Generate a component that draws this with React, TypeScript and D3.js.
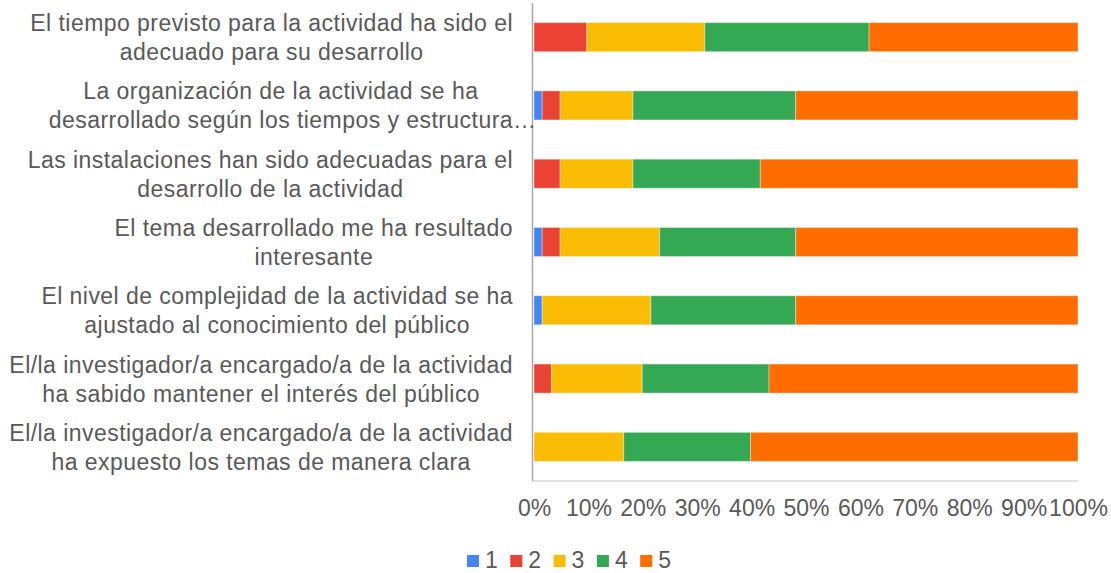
import React, { useEffect, useRef } from 'react'
import * as d3 from 'd3'

const categories = [
  ['El tiempo previsto para la actividad ha sido el', 'adecuado para su desarrollo'],
  ['La organización de la actividad se ha', 'desarrollado según los tiempos y estructura…'],
  ['Las instalaciones han sido adecuadas para el', 'desarrollo de la actividad'],
  ['El tema desarrollado me ha resultado', 'interesante'],
  ['El nivel de complejidad de la actividad se ha', 'ajustado al conocimiento del público'],
  ['El/la investigador/a encargado/a de la actividad', 'ha sabido mantener el interés del público'],
  ['El/la investigador/a encargado/a de la actividad', 'ha expuesto los temas de manera clara']
]

const seriesKeys = ['1', '2', '3', '4', '5']
const seriesColors = ['#4285F4', '#EA4335', '#FBBC04', '#34A853', '#FF6D01']

// percentages per category, one array per rating
const s1 = [0, 1.5, 0, 1.5, 1.5, 0, 0]
const s2 = [9.7, 3.3, 4.8, 3.3, 0, 3.2, 0]
const s3 = [21.7, 13.4, 13.4, 18.3, 20.0, 16.7, 16.5]
const s4 = [30.2, 29.9, 23.4, 25.0, 26.6, 23.3, 23.3]
const s5 = [38.4, 51.9, 58.4, 51.9, 51.9, 56.8, 60.2]

const xTicks = [0, 10, 20, 30, 40, 50, 60, 70, 80, 90, 100]

const W = 1111
const H = 573
const FONT = 'Liberation Sans, Arial, sans-serif'
const TEXT = '#595959'

export default function App() {
  const ref = useRef<SVGSVGElement>(null)

  useEffect(() => {
    const svg = d3.select(ref.current)
    svg.selectAll('*').remove()

    const rows = categories.map((c, i) => ({
      idx: i,
      '1': s1[i],
      '2': s2[i],
      '3': s3[i],
      '4': s4[i],
      '5': s5[i]
    }))
    const stacked = d3.stack<any>().keys(seriesKeys)(rows)

    const x = d3.scaleLinear().domain([0, 100]).range([534, 1078])
    const y = d3
      .scaleBand<number>()
      .domain(categories.map((c, i) => i))
      .range([3, 481])
      .paddingInner(0.575)
      .paddingOuter(0.2875)

    // bars
    svg
      .append('g')
      .selectAll('g')
      .data(stacked)
      .join('g')
      .attr('fill', (d, i) => seriesColors[i])
      .selectAll('rect')
      .data(d => d.filter(v => v[1] - v[0] > 0))
      .join('rect')
      .attr('x', d => x(d[0]))
      .attr('y', d => y(d.data.idx)!)
      .attr('width', d => x(d[1]) - x(d[0]))
      .attr('height', y.bandwidth())
      .attr('stroke', '#ffffff')
      .attr('stroke-opacity', 0.35)
      .attr('stroke-width', 1)

    // frame lines: left baseline and faint bottom line
    svg
      .append('line')
      .attr('x1', 532.5)
      .attr('x2', 532.5)
      .attr('y1', 3)
      .attr('y2', 481)
      .attr('stroke', '#a6a6a6')
      .attr('stroke-width', 1.5)
    svg
      .append('line')
      .attr('x1', 532)
      .attr('x2', 1078)
      .attr('y1', 481)
      .attr('y2', 481)
      .attr('stroke', '#c8c8c8')
      .attr('stroke-width', 1)

    // x axis labels
    const xa = svg
      .append('g')
      .attr('transform', 'translate(0,500)')
      .call(
        d3
          .axisBottom(x)
          .tickValues(xTicks)
          .tickSize(0)
          .tickPadding(0)
          .tickFormat(d => d + '%')
      )
    xa.select('.domain').remove()
    xa.selectAll('text')
      .attr('font-family', FONT)
      .attr('font-size', 23)
      .attr('fill', TEXT)

    // category labels: lines centred in a block that is right aligned
    const right = 513
    const lineGap = 29
    categories.forEach((lines, i) => {
      const cy = y(i)! + y.bandwidth() / 2
      const g = svg.append('g')
      const texts = lines.map((ln, j) => {
        const truncated = ln.endsWith('…')
        const body = truncated ? ln.slice(0, -1) : ln
        const t = g
          .append('text')
          .attr('font-family', FONT)
          .attr('font-size', 23)
          .attr('letter-spacing', 0.45)
          .attr('fill', TEXT)
          .attr('y', cy - 6 + j * lineGap)
          .text(body)
        const w = (t.node() as SVGTextElement).getComputedTextLength()
        return { t, w, truncated }
      })
      const maxW = d3.max(texts, d => d.w) || 0
      texts.forEach(({ t, w, truncated }) => {
        t.attr('x', right - maxW / 2 - w / 2)
        if (truncated) t.append('tspan').text('…')
      })
    })

    // legend
    const lg = svg.append('g').attr('transform', 'translate(467,568)')
    seriesKeys.forEach((k, i) => {
      const it = lg.append('g').attr('transform', `translate(${i * 43.3},0)`)
      it.append('rect')
        .attr('x', 0)
        .attr('y', -13)
        .attr('width', 12)
        .attr('height', 12)
        .attr('fill', seriesColors[i])
      it.append('text')
        .attr('x', 18)
        .attr('font-family', FONT)
        .attr('font-size', 23)
        .attr('fill', TEXT)
        .text(k)
    })
  }, [])

  return (
    <svg
      ref={ref}
      width={W}
      height={H}
      style={{ position: 'absolute', left: 0, top: 0, background: '#fff' }}
    />
  )
}
